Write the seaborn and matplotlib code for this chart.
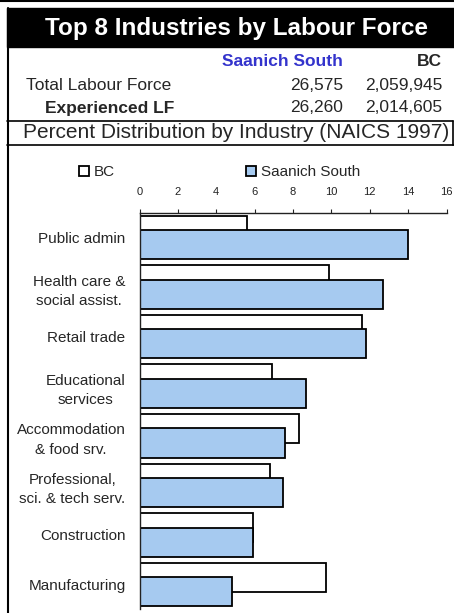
import numpy as np
import pandas as pd
import matplotlib.pyplot as plt
import seaborn as sns
from matplotlib.patches import Rectangle
from matplotlib.lines import Line2D

# datos
industries = ["Public admin", "Health care &\nsocial assist.", "Retail trade",
              "Educational\nservices", "Accommodation\n& food srv.",
              "Professional,\nsci. & tech serv.", "Construction", "Manufacturing"]
bc_pct = [5.6, 9.9, 11.6, 6.9, 8.3, 6.8, 5.9, 9.7]
saanich_pct = [14.0, 12.7, 11.8, 8.7, 7.6, 7.5, 5.9, 4.8]
areas = ["BC", "Saanich South"]
row_labels = ["Total Labour Force", "Experienced LF"]
saanich_lf = ["26,575", "26,260"]
bc_lf = ["2,059,945", "2,014,605"]

W, H = 454, 613
sns.set_style("white")
plt.rcParams["font.family"] = ["Liberation Sans", "DejaVu Sans"]

fig = plt.figure(figsize=(W / 100, H / 100), dpi=100)


def fx(x):
    return x / W


def fy(y):
    return 1 - y / H


# encabezado
fig.add_artist(Line2D([0, 1], [fy(1), fy(1)], color="black", lw=1.5))
fig.add_artist(Rectangle((fx(7), fy(47)), 1 - fx(7), 39 / H, color="black",
                         transform=fig.transFigure))
fig.add_artist(Line2D([fx(7.5), fx(7.5)], [fy(8), 0], color="black", lw=1.5))
fig.add_artist(Line2D([fx(7), fx(453)], [fy(120.5), fy(120.5)], color="black", lw=1.2))
fig.add_artist(Line2D([fx(7), 1], [fy(145), fy(145)], color="black", lw=1.2))
fig.add_artist(Line2D([fx(452.5), fx(452.5)], [fy(120.5), fy(145)], color="black", lw=1.2))

fig.text(fx(236.5), fy(28), "Top 8 Industries by Labour Force", color="white",
         weight="bold", size=17.5, ha="center", va="center")
fig.text(fx(343), fy(62), "Saanich South", color="#3333CC", weight="bold",
         size=12.5, ha="right", va="center")
fig.text(fx(442), fy(62), "BC", weight="bold", size=12.5, ha="right", va="center")
fig.text(fx(26), fy(85), row_labels[0], size=12.5, ha="left", va="center")
fig.text(fx(45), fy(108), row_labels[1], size=12.5, weight="bold", ha="left", va="center")
for i, y in enumerate([85, 108]):
    fig.text(fx(343), fy(y), saanich_lf[i], size=12.5, ha="right", va="center")
    fig.text(fx(442), fy(y), bc_lf[i], size=12.5, ha="right", va="center")
fig.text(fx(236.5), fy(133), "Percent Distribution by Industry (NAICS 1997)",
         size=15, ha="center", va="center")

# grafica
ax = fig.add_axes([139.5 / W, 1 - 609.3 / H, 307 / W, 396.6 / H])
df = pd.DataFrame({
    "industry": industries * 2,
    "area": [areas[0]] * len(industries) + [areas[1]] * len(industries),
    "pct": bc_pct + saanich_pct,
})
sns.barplot(data=df, x="pct", y="industry", hue="area", hue_order=areas,
            palette={"BC": "white", "Saanich South": "#A6CAF0"}, saturation=1,
            edgecolor="black", linewidth=1.3, width=0.88, orient="h", ax=ax)

# barras traslapadas como en Excel
bar_h = 0.59
for b1, b2 in zip(ax.containers[0], ax.containers[1]):
    top = b1.get_y()
    b1.set_height(bar_h)
    b2.set_y(top + 0.29)
    b2.set_height(bar_h)

ax.set_xlim(0, 16)
ax.set_ylim(7.5, -0.5)
ax.set_xticks(range(0, 17, 2))
ax.xaxis.tick_top()
ax.set_xlabel("")
ax.set_ylabel("")
ax.tick_params(axis="x", direction="out", length=3, width=0.8, labelsize=8,
               pad=8, colors="#222222")
ax.tick_params(axis="y", length=0, labelsize=11, pad=10)
for t in ax.get_yticklabels():
    t.set_linespacing(1.5)
    t.set_multialignment("center")
for s in ["right", "bottom"]:
    ax.spines[s].set_visible(False)
for s in ["top", "left"]:
    ax.spines[s].set_color("#222222")
    ax.spines[s].set_linewidth(1)

sns.move_legend(ax, loc="center left", bbox_to_anchor=((79 - 139.5) / 307, 1 + (212.7 - 172) / 396.6),
                ncol=2, frameon=False, title=None, fontsize=11, handlelength=0.65,
                handleheight=0.65, handletextpad=0.3, columnspacing=8.6,
                borderpad=0, borderaxespad=0)

fig.savefig("out.png", dpi=100)
